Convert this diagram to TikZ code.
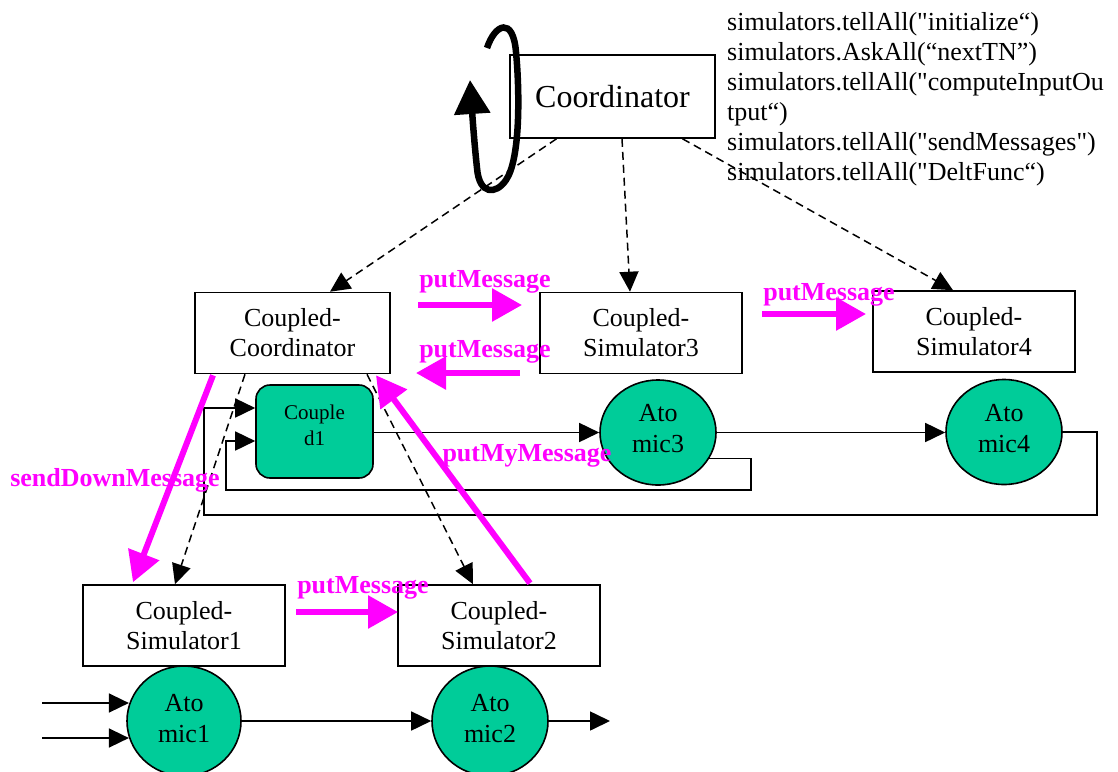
\documentclass[tikz,border=0pt]{standalone}
\usepackage{fontspec}
\setmainfont{Liberation Serif}[Ligatures=TeXOff]
\usetikzlibrary{arrows.meta,shapes.geometric,calc}
\definecolor{atomfill}{RGB}{0,204,153}
\definecolor{msgpink}{RGB}{255,0,255}
\begin{document}
\begin{tikzpicture}[x=1pt,y=-1pt,
  box/.style={draw, line width=1.6pt, rectangle, minimum width=202pt, minimum height=81pt, inner sep=0pt, align=center, font=\fontsize{26}{30}\selectfont},
  cdbox/.style={draw, line width=1.6pt, rectangle, rounded corners=14pt, fill=atomfill, minimum width=117pt, minimum height=93pt, inner sep=0pt, align=center, font=\fontsize{21}{26}\selectfont},
  atom/.style={draw, line width=1.6pt, ellipse, fill=atomfill, minimum width=116pt, minimum height=105pt, inner sep=0pt, align=center, font=\fontsize{26}{31}\selectfont},
  dasharrow/.style={line width=1.5pt, dash pattern=on 8pt off 5pt, -{Triangle[length=20pt,width=19pt]}},
  sol/.style={line width=1.6pt, -{Triangle[length=20pt,width=19pt]}},
  msg/.style={draw=msgpink, line width=6pt, -{Triangle[length=30pt,width=32pt]}},
  msglabel/.style={text=msgpink, inner sep=0pt, font=\bfseries\fontsize{26}{30}\selectfont},
  loop/.style={line width=6.5pt, -{Triangle[length=34pt,width=35pt]}}
]
\useasboundingbox (0,0) rectangle (1118,771);

% nodes
\node[box, minimum width=205pt, minimum height=83pt, font=\fontsize{32}{36}\selectfont] (coord) at (612.5,96.5) {Coordinator};
\node[box, minimum width=195pt] (cc) at (292.5,333) {Coupled-\\Coordinator};
\node[box] (cs3) at (641,333) {Coupled-\\Simulator3};
\node[box] (cs4) at (974,331.5) {Coupled-\\Simulator4};
\node[box] (cs1) at (184,625.5) {Coupled-\\Simulator1};
\node[box] (cs2) at (499,625.5) {Coupled-\\Simulator2};

\node[cdbox] (cd1) at (314.5,431.5) {Couple\\d1\\[-13pt]\mbox{}};
\node[atom] (a3) at (658,432.5) {Ato\\mic3\\[-23pt]\mbox{}};
\node[atom] (a4) at (1004,432) {Ato\\mic4\\[-23pt]\mbox{}};
\node[atom, minimum width=114pt, minimum height=110pt] (a1) at (184,721) {Ato\\mic1\\[-25pt]\mbox{}};
\node[atom, minimum width=116pt, minimum height=110pt] (a2) at (490,721) {Ato\\mic2\\[-25pt]\mbox{}};

% text block
\node[anchor=north west, inner sep=0pt, align=left, font=\fontsize{26}{30}\selectfont] (txt) at (727,12)
{simulators.tellAll("initialize“)\\
simulators.AskAll(“nextTN”)\\
simulators.tellAll("computeInputOu\\
tput“)\\
simulators.tellAll("sendMessages")\\
simulators.tellAll("DeltFunc“)};

% loop arrow on coordinator
\draw[loop] (487,48) .. controls (495,24) and (513,16) .. (516,52)
  .. controls (520,95) and (520,160) .. (506,180)
  .. controls (496,195) and (479,195) .. (477,168)
  .. controls (475,150) and (473,125) .. (470,80);

% dashed control arrows
\draw[dasharrow] ($(coord.south)+(-56,0)$) -- ($(cc.north)+(37.5,0)$);
\draw[dasharrow] ($(coord.south)+(9.5,0)$) -- ($(cs3.north)+(-11,0)$);
\draw[dasharrow] ($(coord.south)+(70,0)$) -- ($(cs4.north)+(-21,0)$);
\draw[dasharrow] ($(cc.south)+(-47.5,0)$) -- ($(cs1.north)+(-9,0)$);
\draw[dasharrow] ($(cc.south)+(74.5,0)$) -- ($(cs2.north)+(-26,0)$);

% solid couplings
\draw[sol] (cd1.east |- a3.west) -- (a3.west);
\draw[sol] (a3.east) -- (a3.east -| a4.west);
\draw[sol] (a3.-27) -| (751,490) -| ($(cd1.west)+(-29,9.5)$) -- ($(cd1.west)+(0,9.5)$);
\draw[sol] (a4.east) -| (1097,515) -| ($(cd1.west)+(-51,-23.5)$) -- ($(cd1.west)+(0,-23.5)$);
\coordinate (in1) at (42,703);
\coordinate (in2) at (42,738);
\draw[sol] (in1) -- (in1 -| a1.163);
\draw[sol] (in2) -- (in2 -| a1.197);
\draw[sol] (a1.east) -- (a2.west);
\coordinate (out2) at (610,721);
\draw[sol] (a2.east) -- (out2);

% magenta message arrows
\coordinate (pm1s) at (418,305); \coordinate (pm1e) at (522,305);
\coordinate (pm2s) at (520,373); \coordinate (pm2e) at (416,373);
\coordinate (pm3s) at (762,314); \coordinate (pm3e) at (866,314);
\coordinate (pm4s) at (296,612); \coordinate (pm4e) at (398,612);
\draw[msg] (pm1s) -- (pm1e);
\draw[msg] (pm2s) -- (pm2e);
\draw[msg] (pm3s) -- (pm3e);
\draw[msg] (pm4s) -- (pm4e);
\draw[msg] ($(cc.south)+(-79.5,1)$) -- ($(cs1.north)+(-51,-2)$);
\draw[msg] ($(cs2.north)+(31,-1)$) -- ($(cc.south)+(83.5,1)$);

\node[msglabel] (l1) at (485,282) {putMessage};
\node[msglabel] (l2) at (485,352) {putMessage};
\node[msglabel] (l3) at (829,295) {putMessage};
\node[msglabel] (l4) at (363,588) {putMessage};
\node[msglabel] (l5) at (115,480) {sendDownMessage};
\node[msglabel] (l6) at (527,456) {putMyMessage};
\end{tikzpicture}
\end{document}
